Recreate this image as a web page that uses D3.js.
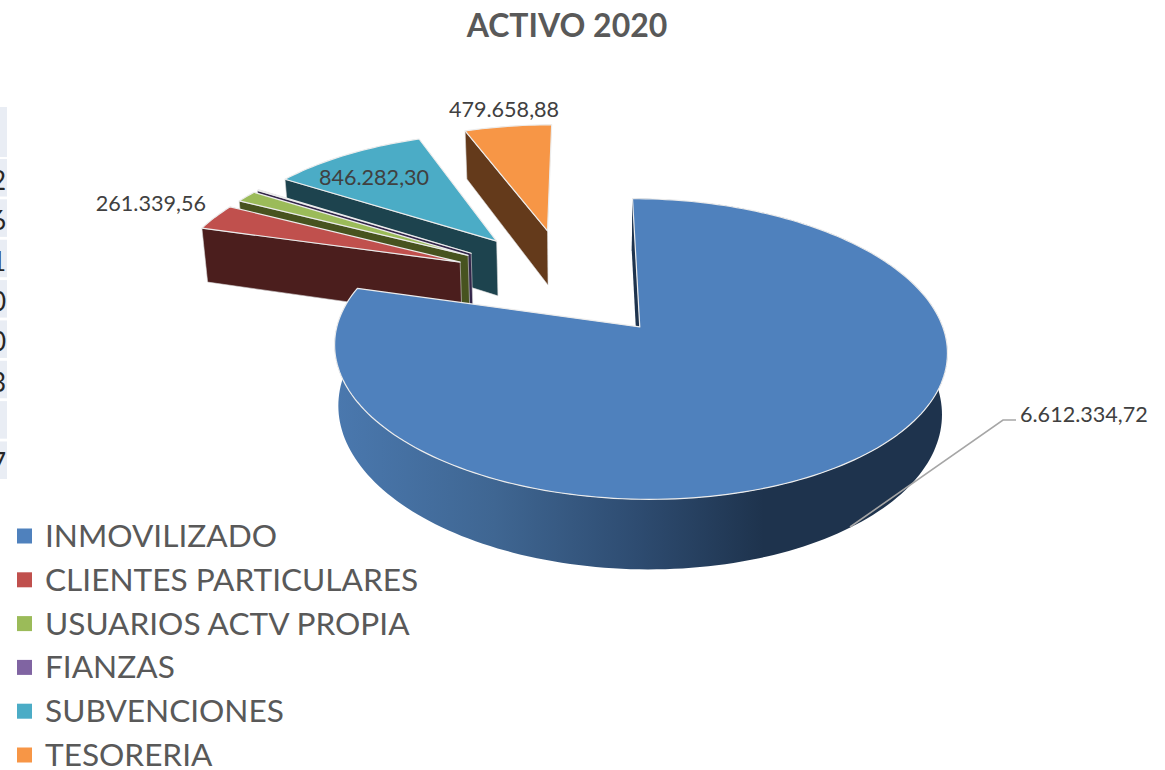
<!DOCTYPE html>
<html>
<head>
<meta charset="utf-8">
<script src="https://cdn.jsdelivr.net/npm/d3@7"></script>
<style>
  body { margin: 0; background: #fff; overflow: hidden; }
  text { font-family: Lato, "Open Sans", sans-serif; }
</style>
</head>
<body>
<div id="chart"></div>
<script>
// values (usuarios + fianzas have no label)
const categories = ["INMOVILIZADO", "CLIENTES PARTICULARES", "USUARIOS ACTV PROPIA", "FIANZAS", "SUBVENCIONES", "TESORERIA"];
const values = [6612334.72, 261339.56, 118000, 9500, 846282.30, 479658.88];
const topColors = ["#4f81bd", "#c0504d", "#9bbb59", "#8064a2", "#4bacc6", "#f79646"];
const faceColors = ["#1e334d", "#4b1e1d", "#47531f", "#33264a", "#1d434e", "#643a1b"];
const labelled = [true, true, false, false, true, true];
// bits of a table that stick in from the left of the screenshot
const cutDigits = ["2", "6", "1", "0", "0", "3", "", "7"];

const width = 1165, height = 770;

const svg = d3.select("#chart")
  .append("svg")
    .attr("width", width)
    .attr("height", height);

// camera: pie lying on the ground, seen in perspective
const vanishX = 583, horizonY = -675;
const wScale = 0.0010454, wDepth = 0.0001465, xGain = 0.3024;
const pieU = -0.0567;
const explode = 0.405;
const dropY = 1.0597, dropX = 0.985;   // bottom face of the disc

function project(u, v, bottom) {
  const s = 1 / (wScale - wDepth * v);
  let x = vanishX + xGain * s * (u + pieU);
  let y = horizonY + s;
  if (bottom) {
    x = vanishX + (x - vanishX) * dropX;
    y = horizonY + (y - horizonY) * dropY;
  }
  return [x, y];
}

const pie = d3.pie().sort(null).startAngle(0).endAngle(2 * Math.PI);
const slices = pie(values);
const line = d3.line();

// angle is clockwise from the far side of the disc, v grows toward the viewer
function apexOf(d) {
  const m = (d.startAngle + d.endAngle) / 2;
  return [explode * Math.sin(m), -explode * Math.cos(m)];
}
function rimPoint(d, t, bottom) {
  const a = apexOf(d);
  return project(a[0] + Math.sin(t), a[1] - Math.cos(t), bottom);
}
function apexPoint(d, bottom) {
  const a = apexOf(d);
  return project(a[0], a[1], bottom);
}
function angles(d) {
  const n = Math.max(2, Math.ceil((d.endAngle - d.startAngle) * 40));
  return d3.range(n + 1).map(i => d.startAngle + (d.endAngle - d.startAngle) * i / n);
}

const defs = svg.append("defs");
const wallGrad = defs.append("linearGradient")
    .attr("id", "wall")
    .attr("gradientUnits", "userSpaceOnUse")
    .attr("x1", 336).attr("x2", 947)
    .attr("y1", 0).attr("y2", 0);
[[0, "#4a78ae"], [0.26, "#3f6692"], [0.49, "#2e4c71"], [0.7, "#1e334d"], [1, "#1e334d"]].forEach(s => {
  wallGrad.append("stop").attr("offset", s[0]).attr("stop-color", s[1]);
});

// table pieces on the left edge
const table = svg.append("g");
const rowY = d3.scaleBand()
    .domain(d3.range(cutDigits.length))
    .range([159, 479])
    .paddingInner(0.07);
table.append("rect")
    .attr("x", 0).attr("y", 107)
    .attr("width", 7).attr("height", 50)
    .attr("fill", "#e9edf4");
table.selectAll("rect.row")
  .data(cutDigits)
  .enter()
  .append("rect")
    .attr("class", "row")
    .attr("x", 0)
    .attr("y", (d, i) => rowY(i))
    .attr("width", 7)
    .attr("height", rowY.bandwidth())
    .attr("fill", "#e9edf4");
table.selectAll("text")
  .data(cutDigits)
  .enter()
  .append("text")
    .attr("x", 6)
    .attr("y", (d, i) => rowY(i) + 31)
    .attr("text-anchor", "end")
    .attr("font-size", 26)
    .attr("fill", "#262626")
    .text(d => d);

// far slices first, big one on top of everything
const pieG = svg.append("g");
const order = d3.range(slices.length).reverse();

order.forEach(i => {
  const d = slices[i];
  const g = pieG.append("g");

  if (i === 0) {
    // outer wall of the big slice
    const ts = angles(d);
    const wall = ts.map(t => rimPoint(d, t, false))
      .concat(ts.slice().reverse().map(t => rimPoint(d, t, true)));
    g.append("path")
      .attr("d", line(wall) + "Z")
      .attr("fill", "url(#wall)");
  }

  // cut face at the start edge
  const face = [
    rimPoint(d, d.startAngle, false),
    apexPoint(d, false),
    apexPoint(d, true),
    rimPoint(d, d.startAngle, true)
  ];
  g.append("path")
    .attr("d", line(face) + "Z")
    .attr("fill", faceColors[i])
    .attr("stroke", i === 0 ? "none" : "#d9d9d9")
    .attr("stroke-width", 0.6);

  // top of the slice
  const top = [apexPoint(d, false)].concat(angles(d).map(t => rimPoint(d, t, false)));
  g.append("path")
    .attr("d", line(top) + "Z")
    .attr("fill", topColors[i])
    .attr("stroke", "#ececec")
    .attr("stroke-width", 1.2)
    .attr("stroke-linejoin", "round");
});

// labels
const fmt = d3.formatLocale({ decimal: ",", thousands: ".", grouping: [3], currency: ["", ""] }).format(",.2f");
const labelPos = [[1020, 414, "start"], [206, 203, "end"], null, null, [374, 177, "middle"], [504, 109, "middle"]];

labelled.forEach((show, i) => {
  if (!show) return;
  svg.append("text")
    .attr("x", labelPos[i][0])
    .attr("y", labelPos[i][1])
    .attr("dy", "0.35em")
    .attr("text-anchor", labelPos[i][2])
    .attr("font-size", 21.6)
    .attr("fill", "#404040")
    .text(fmt(values[i]));
});

svg.append("path")
    .attr("d", line([[850, 527], [1003, 420], [1016, 420]]))
    .attr("fill", "none")
    .attr("stroke", "#a6a6a6")
    .attr("stroke-width", 1.6);

// title
svg.append("text")
    .attr("x", 567)
    .attr("y", 37)
    .attr("text-anchor", "middle")
    .attr("font-size", 32)
    .attr("font-weight", "bold")
    .attr("fill", "#595959")
    .text("ACTIVO 2020");

// legend
const legendY = d3.scalePoint()
    .domain(categories)
    .range([536, 755]);

const legend = svg.selectAll("g.legend")
  .data(categories)
  .enter()
  .append("g")
    .attr("class", "legend")
    .attr("transform", d => `translate(0,${legendY(d)})`);

legend.append("rect")
    .attr("x", 17)
    .attr("y", -7.5)
    .attr("width", 15)
    .attr("height", 15)
    .attr("fill", (d, i) => topColors[i]);

legend.append("text")
    .attr("x", 45)
    .attr("y", 11)
    .attr("font-size", 31.6)
    .attr("fill", "#595959")
    .text(d => d);
</script>
</body>
</html>
